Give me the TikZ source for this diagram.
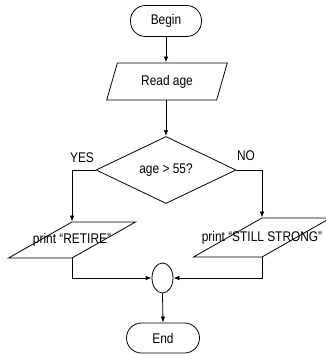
\documentclass[tikz,border=0pt]{standalone}
\usepackage{fontspec}
\setmainfont{Liberation Sans}[FakeStretch=0.85]
\usetikzlibrary{shapes.geometric,arrows.meta}
\begin{document}
\begin{tikzpicture}[x=1pt,y=-1pt,
  font=\fontsize{14}{16}\selectfont, line width=0.8pt,
  term/.style={draw, rounded corners=15pt, minimum width=71pt, minimum height=31pt, inner sep=0pt},
  io/.style={draw, trapezium, trapezium stretches=true, inner sep=0pt},
  decision/.style={draw, diamond, minimum width=140pt, minimum height=67pt, inner sep=0pt, aspect=2.1},
  merge/.style={draw, ellipse, minimum width=21pt, minimum height=30pt, inner sep=0pt},
  arr/.style={-{Latex[length=6pt,width=4.5pt]}}]
\useasboundingbox (0,0) rectangle (326,356);
\node[term] (begin) at (166,21) {Begin};
\node[io, trapezium left angle=67, trapezium right angle=113, minimum width=121pt, minimum height=37pt] (read) at (167,81.5) {Read age};
\node[decision] (dec) at (166,170) {age > 55?};
\node[io, trapezium left angle=57, trapezium right angle=123, minimum width=127pt, minimum height=36pt] (retire) at (72,240) {\makebox[0pt][c]{print “RETIRE”}};
\node[io, trapezium left angle=55, trapezium right angle=125, minimum width=137pt, minimum height=39pt] (still) at (262,237.5) {\makebox[0pt][c]{print “STILL STRONG”}};
\node[merge] (join) at (162.5,278) {};
\node[term, minimum width=73pt, minimum height=30pt] (end) at (163,338) {End};
\node (yes) at (82,158) {YES};
\node (no) at (246,156) {NO};
\draw[arr] (begin.south) -- (read.north -| begin.south);
\draw[arr] (read.south -| dec.north) -- (dec.north);
\draw[arr] (dec.west) -| (retire.north);
\draw[arr] (dec.east) -| (still.north);
\draw[arr] (retire.south) |- (join.west);
\draw[arr] (still.south) |- (join.east);
\draw[arr] (join.south) -- (end.north);
\end{tikzpicture}
\end{document}
